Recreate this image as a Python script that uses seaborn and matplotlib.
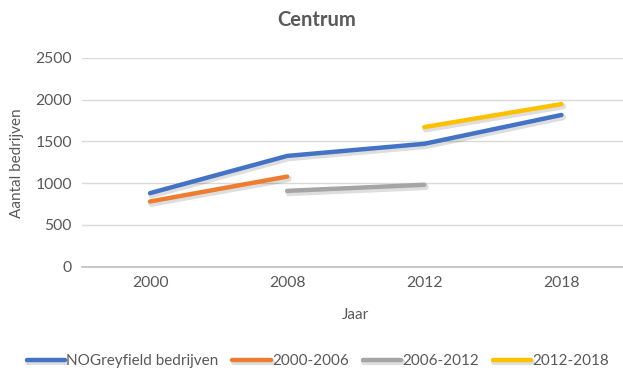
import pandas as pd
import seaborn as sns
import matplotlib.pyplot as plt
import matplotlib.patheffects as pe

# categories on the x axis
years = ["2000", "2008", "2012", "2018"]

# series values, each with the years it covers
greyfield_years = ["2000", "2008", "2012", "2018"]
greyfield_vals = [880, 1325, 1470, 1815]
p0006_years = ["2000", "2008"]
p0006_vals = [780, 1078]
p0612_years = ["2008", "2012"]
p0612_vals = [907, 980]
p1218_years = ["2012", "2018"]
p1218_vals = [1670, 1945]

series_names = ["NOGreyfield bedrijven", "2000-2006", "2006-2012", "2012-2018"]
colors = ["#4472C4", "#ED7D31", "#A5A5A5", "#FFC000"]

rows = []
for name, ys, vs in zip(series_names,
                        [greyfield_years, p0006_years, p0612_years, p1218_years],
                        [greyfield_vals, p0006_vals, p0612_vals, p1218_vals]):
    for y, v in zip(ys, vs):
        rows.append({"serie": name, "pos": years.index(y), "waarde": v})
df = pd.DataFrame(rows)

sns.set_style("white")
plt.rcParams["font.family"] = ["Lato", "DejaVu Sans"]
txt = "#595959"

fig = plt.figure(figsize=(6.23, 3.70), dpi=100)
ax = fig.add_axes([81.5 / 623, 103.3 / 370, 548.5 / 623, 209 / 370])

sns.lineplot(data=df, x="pos", y="waarde", hue="serie", hue_order=series_names,
             palette=colors, linewidth=3.2, sort=False, ax=ax, legend=True,
             solid_capstyle="round")
# soft drop shadow like the Excel line style
for ln in ax.get_lines():
    ln.set_path_effects([pe.SimpleLineShadow(offset=(1.0, -1.6), alpha=0.13,
                                             shadow_color="black", linewidth=4.5),
                         pe.Normal()])

ax.set_xlim(-0.5, 3.5)
ax.set_ylim(0, 2500)
ax.set_yticks(range(0, 2501, 500))
ax.set_xticks(range(len(years)))
ax.set_xticklabels(years)
ax.tick_params(axis="both", labelsize=11.3, colors=txt, length=0, pad=7)
ax.grid(axis="y", color="#D9D9D9", linewidth=1)
ax.set_axisbelow(True)
for s in ["top", "right", "left"]:
    ax.spines[s].set_visible(False)
ax.spines["bottom"].set_color("#BFBFBF")
ax.spines["bottom"].set_linewidth(1.2)

ax.set_xlabel("Jaar", fontsize=11, color=txt)
ax.set_ylabel("Aantal bedrijven", fontsize=11, color=txt)
ax.xaxis.set_label_coords((355 - 81.5) / 548.5, -(308 - 266.7) / 209)
ax.yaxis.set_label_coords(-(81.5 - 24) / 548.5, (266.7 - 163) / 209)

fig.text(316.7 / 623, 1 - 20 / 370, "Centrum", ha="center", va="center",
         fontsize=14.5, fontweight="bold", color=txt)

handles, labels = ax.get_legend_handles_labels()
ax.get_legend().remove()
fig.legend(handles, labels, loc="center", bbox_to_anchor=(318 / 623, 1 - 361 / 370),
           ncol=4, frameon=False, fontsize=11, labelcolor=txt,
           handlelength=2.5, handletextpad=0.1, columnspacing=0.9)

fig.savefig("out.png", dpi=100)
